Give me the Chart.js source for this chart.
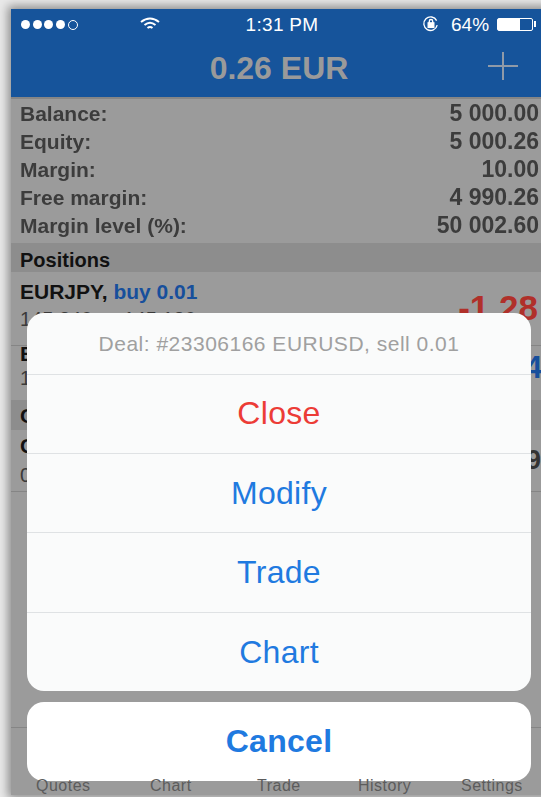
<!DOCTYPE html>
<html lang="en">
<head>
  <meta charset="UTF-8" />
  <title>Positions</title>
  <script src="https://cdn.jsdelivr.net/npm/chart.js"></script>
  <style>
    html, body { margin: 0; padding: 0; }
    body { width: 541px; height: 797px; overflow: hidden; position: relative; background: #e9e9e9; font-family: "Liberation Sans", sans-serif; }
    .t { position: absolute; white-space: nowrap; line-height: 1; }
    .box { position: absolute; }
    #phone { position: absolute; left: 11px; top: 9px; width: 540px; height: 786px; background: #9b9b9b; box-shadow: 0 0 9px 3px rgba(0,0,0,.4); }
    #head { left: 11px; top: 9px; width: 530px; height: 88px; background: #16549b; border-bottom: 2px solid #868686; }
    .hdr { left: 11px; width: 530px; background: #8d8d8d; }
    .line { left: 11px; width: 530px; height: 1px; background: #858585; }
    .dot { position: absolute; top: 20px; width: 9px; height: 9px; border-radius: 50%; background: #fff; }
    #summary { position: absolute; left: 11px; top: 101px; }
    .sheet { position: absolute; left: 27px; width: 504px; background: #fafbfb; border-radius: 17px; }
    .sep { left: 27px; width: 504px; height: 1px; background: #dfe2e4; }
    .c { left: 27px; width: 504px; text-align: center; }
    .act { font-size: 32px; color: #1f7ae0; letter-spacing: .3px; }
    .tab { font-size: 16px; color: #5c5c5c; top: 778px; letter-spacing: .5px; }
    .b { font-weight: bold; font-size: 21px; color: #111; }
    .g { font-size: 20px; color: #3a3a3a; }
  </style>
</head>
<body>
  <div id="phone"></div>
  <div class="box" id="head"></div>

  <!-- status bar -->
  <div class="dot" style="left:21px"></div>
  <div class="dot" style="left:33px"></div>
  <div class="dot" style="left:44px"></div>
  <div class="dot" style="left:56px"></div>
  <div class="dot" style="left:68px;background:none;border:1px solid #fff;width:8px;height:8px"></div>
  <svg class="box" style="left:139px;top:16px" width="22" height="16" viewBox="0 0 22 16" fill="none" stroke="#fff" stroke-width="2">
    <path d="M2 6 Q11 -1 20 6" /><path d="M5.500 9 Q11 4.500 16.500 9" /><path d="M8.500 12 Q11 10 13.500 12" />
  </svg>
  <div class="t" style="left:182px;width:200px;text-align:center;top:15px;font-size:19px;color:#fff;letter-spacing:.3px">1:31 PM</div>
  <svg class="box" style="left:421px;top:15px" width="20" height="18" viewBox="0 0 16 16" fill="none" stroke="#fff" stroke-width="1.200">
    <path d="M13.500 9 A6 6 0 1 1 13 5" /><rect x="5.500" y="7" width="5" height="4" fill="#fff" /><path d="M6.500 7 V5.500 A1.500 1.500 0 0 1 9.500 5.500 V7" />
  </svg>
  <div class="t" style="left:451px;top:15px;font-size:19px;color:#fff">64%</div>
  <div class="box" style="left:497px;top:18px;width:36px;height:13px;border:1px solid #fff;border-radius:2px;box-sizing:border-box">
    <div style="width:22px;height:11px;background:#fff"></div>
  </div>
  <div class="box" style="left:534px;top:21px;width:2px;height:6px;background:#fff"></div>

  <!-- title -->
  <div class="t" style="left:179px;width:200px;text-align:center;top:52px;font-size:32px;font-weight:bold;color:#9a9a9a">0.26 EUR</div>
  <div class="box" style="left:488px;top:65px;width:30px;height:2px;background:#8f9aa8"></div>
  <div class="box" style="left:502px;top:52px;width:2px;height:28px;background:#8f9aa8"></div>

  <!-- account summary -->
  <canvas id="summary" width="530" height="140"></canvas>

  <!-- rows, mostly covered by the sheet -->
  <div class="box hdr" style="top:243px;height:29px"></div>
  <div class="t b" style="left:20px;top:250px;font-size:20px">Positions</div>
  <div class="t b" style="left:20px;top:281px">EURJPY, <span style="color:#174f9c">buy 0.01</span></div>
  <div class="t g" style="left:20px;top:309px">145.240 → 145.186</div>
  <div class="t" style="right:3px;top:290px;font-size:35px;font-weight:bold;color:#b0302a">-1.28</div>
  <div class="box line" style="top:345px"></div>
  <div class="t b" style="left:20px;top:343px">E</div>
  <div class="t g" style="left:20px;top:368px">1</div>
  <div class="t" style="left:525px;top:352px;font-size:31px;font-weight:bold;color:#174f9c">4</div>
  <div class="box hdr" style="top:400px;height:30px"></div>
  <div class="t b" style="left:20px;top:405px">O</div>
  <div class="t b" style="left:20px;top:435px">G</div>
  <div class="t g" style="left:20px;top:465px">0</div>
  <div class="t" style="left:526px;top:447px;font-size:27px;font-weight:bold;color:#333">9</div>
  <div class="box line" style="top:491px"></div>
  <div class="box line" style="top:727px"></div>

  <!-- action sheet -->
  <div class="sheet" style="top:313px;height:378px"></div>
  <div class="t c" style="top:333px;font-size:21px;color:#a0a0a0;letter-spacing:.5px">Deal: #23306166 EURUSD, sell 0.01</div>
  <div class="box sep" style="top:374px"></div>
  <div class="t c act" style="top:397px;color:#ec3c36">Close</div>
  <div class="box sep" style="top:453px"></div>
  <div class="t c act" style="top:477px">Modify</div>
  <div class="box sep" style="top:532px"></div>
  <div class="t c act" style="top:556px">Trade</div>
  <div class="box sep" style="top:612px"></div>
  <div class="t c act" style="top:636px">Chart</div>

  <div class="sheet" style="top:702px;height:79px;background:#fff"></div>
  <div class="t c act" style="top:725px;font-weight:bold">Cancel</div>

  <div class="t tab" style="left:36px">Quotes</div>
  <div class="t tab" style="left:150px">Chart</div>
  <div class="t tab" style="left:257px">Trade</div>
  <div class="t tab" style="left:358px">History</div>
  <div class="t tab" style="left:461px">Settings</div>

  <script>
    const rowLabels = ['Balance:', 'Equity:', 'Margin:', 'Free margin:', 'Margin level (%):'];
    const rowValues = [5000.00, 5000.26, 10.00, 4990.26, 50002.60];

    // 5000.26 -> "5 000.26"
    const fmt = v => v.toFixed(2).replace(/\B(?=(\d{3})+\.)/g, ' ');

    // the picture shows the numbers only, so they go at the right end of each row
    const valueText = {
      id: 'valueText',
      afterDatasetsDraw(chart) {
        const { ctx, scales } = chart;
        ctx.save();
        ctx.font = 'bold 23px "Liberation Sans"';
        ctx.fillStyle = '#3c3c3c';
        ctx.textAlign = 'right';
        ctx.textBaseline = 'middle';
        rowValues.forEach((v, i) => ctx.fillText(fmt(v), chart.width - 2, scales.y.getPixelForValue(i)));
        ctx.restore();
      }
    };

    new Chart(document.getElementById('summary'), {
      type: 'bar',
      data: {
        labels: rowLabels,
        datasets: [{ data: rowValues, backgroundColor: 'rgba(0,0,0,0)', borderWidth: 0 }]
      },
      plugins: [valueText],
      options: {
        indexAxis: 'y',
        responsive: false,
        animation: false,
        layout: { padding: { left: 9, top: 0, right: 0, bottom: 0 } },
        plugins: { legend: { display: false }, tooltip: { enabled: false } },
        scales: {
          x: { display: false, min: 0, max: 60000 },
          y: {
            border: { display: false },
            grid: { display: false },
            afterFit: s => { s.width = 180; s.paddingTop = 0; s.paddingBottom = 0; },
            ticks: {
              autoSkip: false,
              crossAlign: 'far',
              padding: 0,
              color: '#3c3c3c',
              font: { family: '"Liberation Sans"', size: 21, weight: 'bold' }
            }
          }
        }
      }
    });
  </script>
</body>
</html>
